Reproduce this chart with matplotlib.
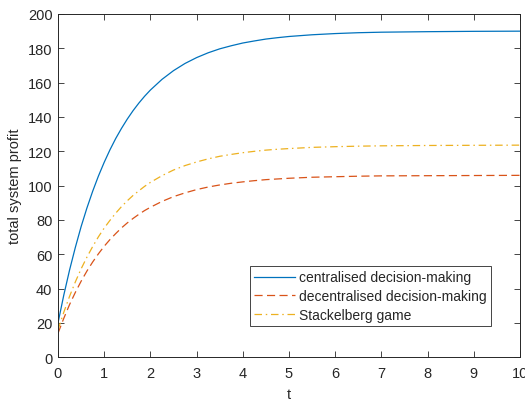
import matplotlib
matplotlib.use("Agg")
import matplotlib.pyplot as plt

t = [0, 0.125, 0.25, 0.375, 0.5, 0.625, 0.75, 0.875, 1, 1.125, 1.25, 1.375, 1.5, 1.625,
     1.75, 1.875, 2, 2.25, 2.5, 2.75, 3, 3.25, 3.5, 3.75, 4, 4.25, 4.5, 4.75, 5, 5.5,
     6, 6.5, 7, 8, 9, 10]
centralised = [20, 36.2, 50.8, 64.0, 76.1, 86.9, 96.7, 105.6, 113.6, 120.9, 127.5, 133.4,
               138.8, 143.7, 148.1, 152.1, 155.7, 161.9, 167.0, 171.2, 174.6, 177.4, 179.7,
               181.5, 183.1, 184.3, 185.4, 186.2, 186.9, 187.9, 188.6, 189.1, 189.4, 189.7,
               189.9, 190.0]
decentralised = [14, 22.7, 30.7, 37.8, 44.3, 50.2, 55.5, 60.3, 64.7, 68.6, 72.1, 75.4,
                 78.3, 80.9, 83.3, 85.5, 87.4, 90.8, 93.6, 95.8, 97.7, 99.2, 100.4, 101.4,
                 102.2, 102.9, 103.5, 103.9, 104.3, 104.9, 105.2, 105.5, 105.7, 105.8,
                 105.9, 106.0]
stackelberg = [16, 26.2, 35.5, 43.9, 51.5, 58.3, 64.5, 70.2, 75.3, 79.8, 84.0, 87.8,
               91.2, 94.3, 97.0, 99.6, 101.9, 105.8, 109.1, 111.7, 113.8, 115.6, 117.1,
               118.2, 119.2, 120.0, 120.7, 121.2, 121.6, 122.3, 122.7, 123.0, 123.2,
               123.4, 123.5, 123.6]
labels = ["centralised decision-making", "decentralised decision-making", "Stackelberg game"]
xticks = list(range(0, 11))
yticks = list(range(0, 201, 20))

plt.rcParams['font.family'] = ['Liberation Sans', 'DejaVu Sans']
fig = plt.figure(figsize=(5.25, 4.02), dpi=100)
ax = fig.add_axes([58/525, 1-358.3/402, 462/525, 343.3/402])

ax.plot(t, centralised, color='#0072BD', lw=0.9, ls='-', label=labels[0])
ax.plot(t, decentralised, color='#D95319', lw=0.9, ls=(0, (6.5, 3.5)), label=labels[1])
ax.plot(t, stackelberg, color='#EDB120', lw=0.9, ls=(0, (6, 3, 1.2, 3)), label=labels[2])

ax.set_xlim(0, 10)
ax.set_ylim(0, 200)
ax.set_xticks(xticks)
ax.set_yticks(yticks)
ax.tick_params(direction='in', top=True, right=True, length=4, width=0.6,
               labelsize=10.5, colors='#262626')
ax.tick_params(axis='x', pad=6.5)
ax.tick_params(axis='y', pad=4)
for s in ax.spines.values():
    s.set_color('#262626')
    s.set_linewidth(0.7)
ax.set_xlabel('t', fontsize=10.5, color='#262626', labelpad=5)
ax.set_ylabel('total system profit', fontsize=10.5, color='#262626', labelpad=4)

leg = ax.legend(loc='lower right', bbox_to_anchor=(0.9366, 0.0903), borderaxespad=0,
                fontsize=10, handlelength=2.95, handletextpad=0.25, labelspacing=0.35,
                borderpad=0.3, fancybox=False, framealpha=1, edgecolor='#262626')
leg.get_frame().set_linewidth(0.6)
for txt in leg.get_texts():
    txt.set_color('#262626')

fig.savefig('out.png', dpi=100)
